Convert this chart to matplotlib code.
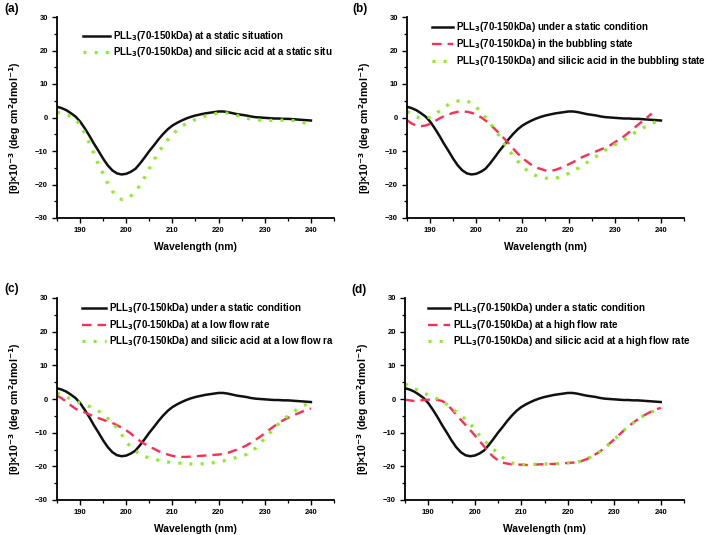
import matplotlib
matplotlib.use("Agg")
import matplotlib.pyplot as plt
from matplotlib.lines import Line2D
from matplotlib.ticker import MultipleLocator

plt.rcParams['font.family'] = ['Liberation Sans', 'DejaVu Sans']
plt.rcParams['font.weight'] = 'bold'
plt.rcParams['mathtext.default'] = 'bf'

wl = list(range(185, 241))
wl_red_b = list(range(185, 239))

static = [3.2, 2.8, 2.2, 1.3, 0.3, -1.2, -3.2, -5.4, -7.8, -10.0,
          -12.3, -14.3, -15.8, -16.7, -17.0, -16.8, -16.2, -15.3, -13.7, -11.9,
          -10.0, -8.3, -6.5, -4.9, -3.5, -2.4, -1.6, -0.9, -0.3, 0.2,
          0.6, 0.9, 1.2, 1.4, 1.6, 1.8, 1.8, 1.6, 1.3, 1.0,
          0.8, 0.6, 0.3, 0.1, 0.0, -0.1, -0.2, -0.3, -0.3, -0.4,
          -0.4, -0.5, -0.6, -0.7, -0.8, -0.9]

silicic_static = [1.6, 1.2, 0.8, 0.4, -0.6, -2.2, -4.6, -7.7, -10.8, -14.2,
                  -16.8, -19.7, -22.0, -23.7, -24.5, -24.3, -23.4, -22.0, -20.2, -17.8,
                  -15.2, -12.7, -10.4, -8.3, -6.6, -5.0, -3.8, -2.6, -1.8, -1.1,
                  -0.6, -0.1, 0.4, 0.8, 1.1, 1.3, 1.4, 1.3, 1.0, 0.6,
                  0.2, -0.2, -0.5, -0.6, -0.8, -0.9, -0.9, -0.8, -0.8, -0.8,
                  -0.8, -0.9, -1.1, -1.4, -1.8, -2.1]

bubbling = [-0.8, -1.8, -2.4, -2.6, -2.4, -1.9, -1.1, -0.3, 0.4, 0.9,
            1.4, 1.7, 1.8, 1.7, 1.4, 0.8, 0.1, -0.9, -2.1, -3.4,
            -4.8, -6.2, -7.7, -9.3, -10.8, -12.1, -13.2, -14.2, -14.9, -15.4,
            -15.8, -15.9, -15.7, -15.2, -14.6, -14.0, -13.3, -12.5, -11.8, -11.2,
            -10.6, -10.1, -9.5, -9.0, -8.3, -7.4, -6.5, -5.6, -4.5, -3.4,
            -2.2, -1.1, 0.0, 1.2]

silicic_bubbling = [1.8, 1.1, 0.2, -0.3, -0.2, 0.1, 0.9, 1.9, 3.0, 3.9,
                    4.5, 4.9, 5.1, 4.9, 4.3, 3.1, 1.6, 0.0, -1.8, -3.6,
                    -5.6, -7.7, -9.6, -11.5, -13.1, -14.7, -15.8, -16.8, -17.4, -17.9,
                    -18.1, -18.2, -18.2, -17.8, -17.3, -16.7, -16.0, -15.2, -14.4, -13.4,
                    -12.4, -11.6, -10.7, -9.7, -8.9, -8.1, -7.4, -6.6, -5.7, -4.8,
                    -3.9, -3.2, -2.5, -1.8, -1.2, -0.8]

low_flow = [1.0, 0.2, -0.8, -1.9, -2.9, -3.6, -4.0, -4.6, -5.2, -5.7,
            -6.2, -6.7, -7.1, -7.8, -8.5, -9.3, -10.3, -11.5, -12.5, -13.4,
            -14.1, -14.8, -15.5, -16.0, -16.5, -16.9, -17.1, -17.2, -17.2, -17.1,
            -17.0, -16.9, -16.8, -16.7, -16.6, -16.5, -16.3, -16.0, -15.5, -15.0,
            -14.5, -13.8, -13.0, -12.1, -11.2, -10.2, -9.1, -8.1, -7.2, -6.3,
            -5.6, -5.0, -4.4, -3.8, -3.2, -2.8]

silicic_low_flow = [1.8, 1.2, 0.6, 0.0, -0.6, -1.2, -1.7, -2.2, -2.8, -3.6,
                    -4.6, -5.8, -7.0, -8.6, -10.6, -12.7, -14.3, -15.5, -16.4, -17.1,
                    -17.5, -17.8, -18.2, -18.5, -18.7, -18.9, -19.0, -19.1, -19.2, -19.3,
                    -19.3, -19.3, -19.2, -19.1, -18.9, -18.6, -18.4, -18.1, -17.7, -17.3,
                    -16.9, -16.5, -15.7, -14.6, -13.2, -11.7, -10.2, -8.7, -7.4, -6.1,
                    -5.0, -4.0, -3.1, -2.2, -1.6, -1.3]

high_flow = [-0.2, -0.4, -0.6, -0.5, -0.3, -0.2, -0.2, -0.3, -0.6, -1.6,
             -3.0, -4.6, -6.2, -7.7, -9.2, -10.8, -12.4, -14.1, -15.8, -17.2,
             -18.2, -18.9, -19.2, -19.4, -19.5, -19.5, -19.6, -19.6, -19.5, -19.4,
             -19.4, -19.3, -19.3, -19.2, -19.1, -19.0, -18.9, -18.8, -18.4, -17.9,
             -17.2, -16.4, -15.5, -14.5, -13.2, -12.0, -10.7, -9.4, -8.2, -7.1,
             -6.1, -5.2, -4.4, -3.7, -3.1, -2.6]

silicic_high_flow = [4.5, 3.8, 3.1, 2.4, 1.8, 1.2, 0.6, 0.0, -0.7, -1.6,
                     -2.7, -3.8, -4.9, -6.0, -7.4, -9.0, -10.8, -12.2, -13.6, -14.9,
                     -16.2, -17.4, -18.4, -19.0, -19.3, -19.5, -19.5, -19.5, -19.4, -19.4,
                     -19.3, -19.3, -19.2, -19.2, -19.1, -19.0, -18.9, -18.8, -18.4, -17.9,
                     -17.2, -16.4, -15.5, -14.5, -13.2, -12.0, -10.7, -9.4, -8.2, -7.1,
                     -6.1, -5.2, -4.4, -3.8, -3.5, -3.4]

xticks = [190, 200, 210, 220, 230, 240]
yticks = [-30, -20, -10, 0, 10, 20, 30]

P = r"PLL$_3$(70-150kDa)"
labels_a = [P + " at a static situation",
            P + " and silicic acid at a static situ"]
labels_b = [P + " under a static condition",
            P + " in the bubbling state",
            P + " and silicic acid in the bubbling state"]
labels_c = [P + " under a static condition",
            P + " at a low flow rate",
            P + " and silicic acid at a low flow ra"]
labels_d = [P + " under a static condition",
            P + " at a high flow rate",
            P + " and silicic acid at a high flow rate"]

BLACK = '#111111'
RED = '#ff2d55'
GREEN = '#88ee22'
STY = {
    'k': dict(color=BLACK, lw=1.8, ls='-'),
    'r': dict(color=RED, lw=1.7, ls=(0, (4.0, 2.6))),
    'g': dict(color=GREEN, lw=2.3, ls=(0, (0.9, 2.6))),
}

W, H = 709, 535
fig = plt.figure(figsize=(W / 100, H / 100), dpi=100)


def fx(px):
    return px / W


def fy(py):
    return 1 - py / H


def make_ax(left, top, right, bottom):
    ax = fig.add_axes([fx(left), fy(bottom), fx(right) - fx(left), (bottom - top) / H])
    ax.set_xlim(185, 245)
    ax.set_ylim(-30, 30)
    ax.set_xticks(xticks)
    ax.set_yticks(yticks)
    ax.xaxis.set_minor_locator(MultipleLocator(5))
    ax.yaxis.set_minor_locator(MultipleLocator(5))
    for s in ['top', 'right']:
        ax.spines[s].set_visible(False)
    for s in ['left', 'bottom']:
        ax.spines[s].set_linewidth(1.3)
    ax.tick_params(which='major', direction='out', length=3.5, width=1.0,
                   labelsize=5.5, pad=3)
    ax.tick_params(which='minor', direction='out', length=2, width=0.9)
    ax.set_xlabel("Wavelength (nm)", fontsize=7.4, fontweight='bold', labelpad=6)
    ax.set_ylabel(r"[θ]×10$^{-3}$ (deg cm$^2$dmol$^{-1}$)", fontsize=7.6,
                  fontweight='bold')
    ax.yaxis.set_label_coords(-0.122, 0.45)
    return ax


def legend(x0, x1, ys, keys, labels):
    for y, k, lab in zip(ys, keys, labels):
        st = STY[k]
        fig.add_artist(Line2D([fx(x0), fx(x1)], [fy(y), fy(y)], color=st['color'],
                              lw=st['lw'], ls=st['ls']))
        fig.text(fx(x1 + 3), fy(y), lab, fontsize=7, fontweight='bold',
                 va='center', ha='left')


# Panel (a)
ax = make_ax(57, 17, 334, 218)
ax.plot(wl, static, **STY['k'])
ax.plot(wl, silicic_static, **STY['g'])
legend(83, 110, [36, 52], ['k', 'g'], labels_a)
fig.text(fx(4), fy(9), "(a)", fontsize=8.5, fontweight='bold', va='center')

# Panel (b)
ax = make_ax(407, 17, 684, 218)
ax.plot(wl, static, **STY['k'])
ax.plot(wl_red_b, bubbling, **STY['r'])
ax.plot(wl, silicic_bubbling, **STY['g'])
legend(432, 453, [27, 44, 61], ['k', 'r', 'g'], labels_b)
fig.text(fx(352), fy(9), "(b)", fontsize=8.5, fontweight='bold', va='center')

# Panel (c)
ax = make_ax(57, 298, 334, 500)
ax.plot(wl, static, **STY['k'])
ax.plot(wl, low_flow, **STY['r'])
ax.plot(wl, silicic_low_flow, **STY['g'])
legend(82, 106, [308, 325, 341], ['k', 'r', 'g'], labels_c)
fig.text(fx(4), fy(289), "(c)", fontsize=8.5, fontweight='bold', va='center')

# Panel (d)
ax = make_ax(405, 298, 684, 500)
ax.plot(wl, static, **STY['k'])
ax.plot(wl, high_flow, **STY['r'])
ax.plot(wl, silicic_high_flow, **STY['g'])
legend(428, 450, [308, 325, 341], ['k', 'r', 'g'], labels_d)
fig.text(fx(351), fy(290), "(d)", fontsize=8.5, fontweight='bold', va='center')

fig.savefig("out.png", dpi=100)
